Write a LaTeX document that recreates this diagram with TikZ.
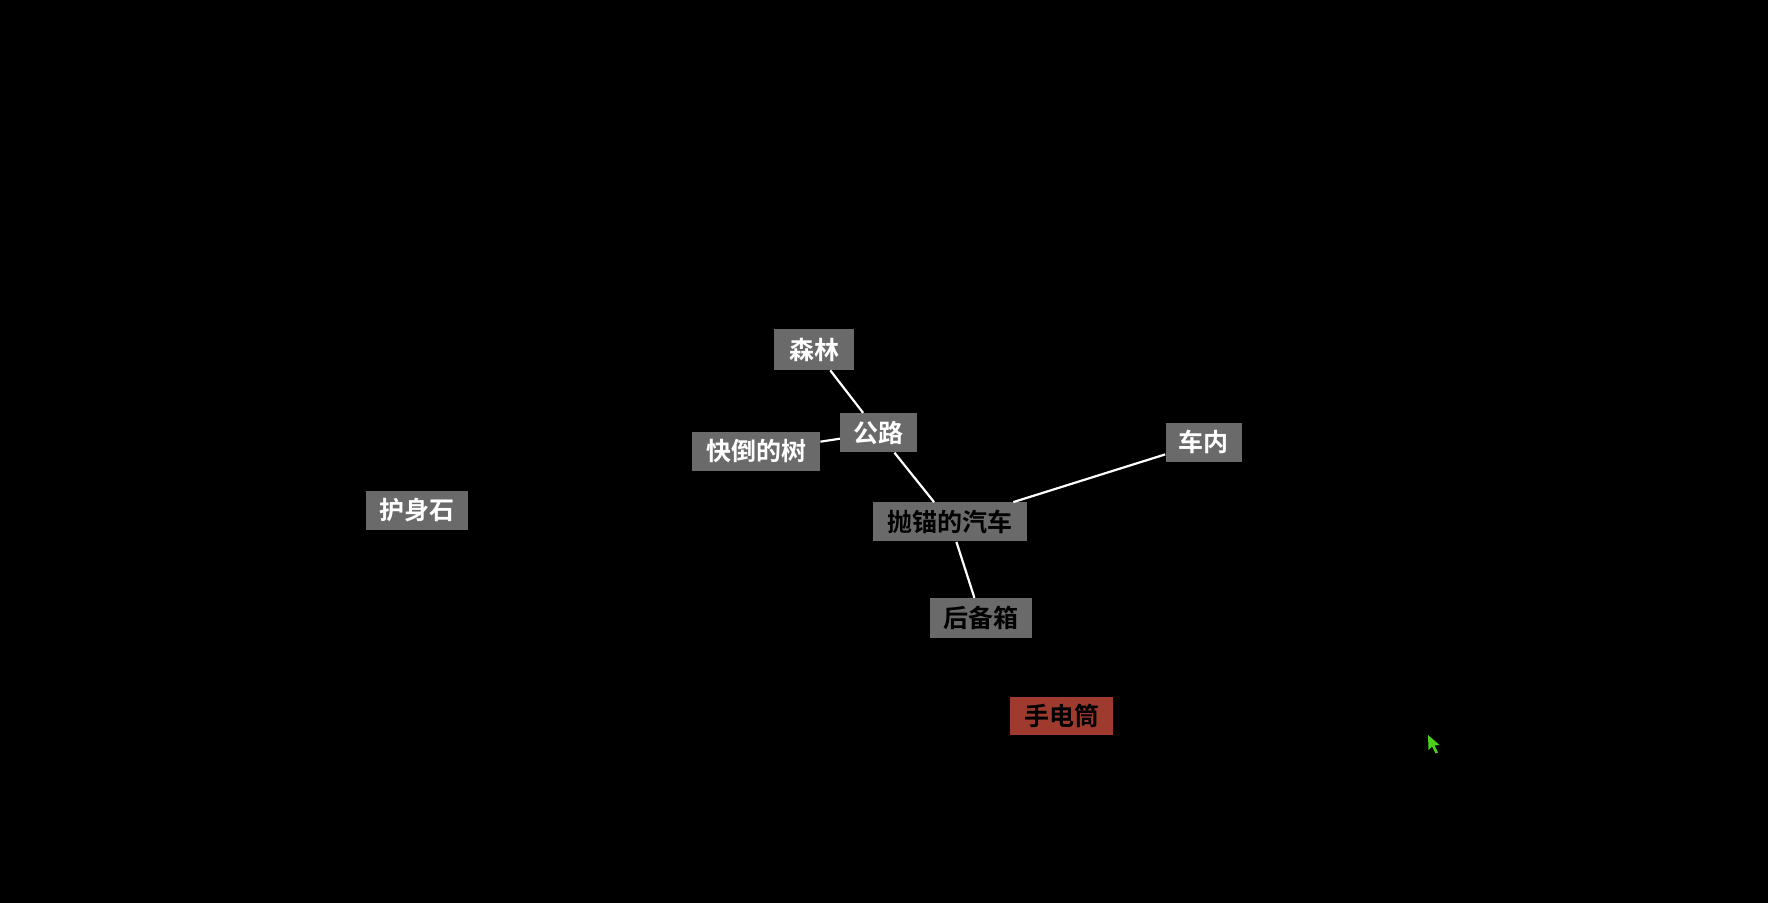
\documentclass[tikz,border=0pt]{standalone}
\usepackage{fontspec}
\newfontfamily\cjk{Noto Sans CJK SC}[BoldFont={* Bold}]
\definecolor{boxgray}{HTML}{6A6A6A}
\definecolor{boxred}{HTML}{9E3B2E}
\definecolor{cursorgreen}{HTML}{4CD01C}
\begin{document}
\begin{tikzpicture}[x=0.5pt,y=-0.5pt,
  box/.style={fill=boxgray,inner sep=0pt,minimum height=19.5pt,font=\cjk\bfseries\fontsize{12.5}{13}\selectfont},
  wt/.style={text=white},
  bt/.style={text=black},
  link/.style={draw=white,line width=1.1pt}]
\fill[black] (0,0) rectangle (1768,903);
\useasboundingbox (0,0) rectangle (1768,903);
\node[box,wt,minimum width=40pt,minimum height=20.3pt] (forest) at (814.3,349.7) {森林};
\node[box,wt,minimum width=38.2pt] (road) at (878.5,432.8) {公路};
\node[box,wt,minimum width=63.8pt] (tree) at (756.2,451.5) {快倒的树};
\node[box,wt,minimum width=38.2pt] (inside) at (1203.8,442.3) {车内};
\node[box,bt,minimum width=76.7pt] (car) at (950,522) {抛锚的汽车};
\node[box,bt,minimum width=50.7pt,minimum height=20pt] (trunk) at (981,618.3) {后备箱};
\node[box,wt,minimum width=51.3pt] (amulet) at (417,510.3) {护身石};
\node[box,bt,fill=boxred,minimum width=51.3pt,minimum height=19pt] (torch) at (1061.7,716.2) {手电筒};
\draw[link] (forest) -- (road);
\draw[link] (tree) -- (road);
\draw[link] (road) -- (car);
\draw[link] (inside) -- (car);
\draw[link] (car) -- (trunk);
\fill[cursorgreen] (1428,735) -- (1428.5,750) -- (1432,746.5) -- (1435.5,753.5) -- (1438,752.5) -- (1434.5,745.5) -- (1439.5,745) -- cycle;
\end{tikzpicture}
\end{document}
